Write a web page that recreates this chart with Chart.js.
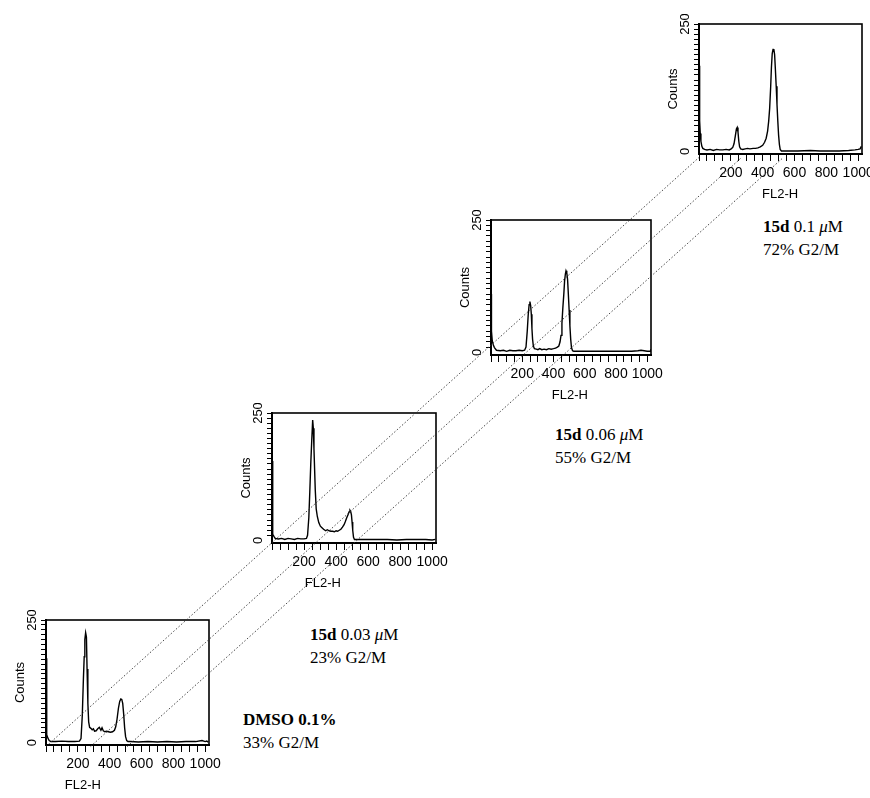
<!DOCTYPE html>
<html>
<head>
<meta charset="utf-8">
<script src="https://cdn.jsdelivr.net/npm/chart.js@4.4.1/dist/chart.umd.min.js"></script>
<style>
  html, body { margin: 0; padding: 0; background: #fff; width: 870px; height: 798px; overflow: hidden; }
  canvas.panel { position: absolute; }
  #overlay { position: absolute; left: 0; top: 0; z-index: 10; pointer-events: none; }
  .lbl { position: absolute; font: 17px "Liberation Serif", "Times New Roman", serif; line-height: 23px; color: #000; white-space: nowrap; }
  .lbl b { font-weight: bold; }
</style>
</head>
<body>
<canvas class="panel" id="p1"></canvas>
<canvas class="panel" id="p2"></canvas>
<canvas class="panel" id="p3"></canvas>
<canvas class="panel" id="p4"></canvas>
<canvas id="overlay" width="870" height="798"></canvas>

<div class="lbl" style="left:243px;top:708px"><b>DMSO 0.1%</b><br>33% G2/M</div>
<div class="lbl" style="left:310px;top:623px"><b>15d</b> 0.03 <i>μ</i>M<br>23% G2/M</div>
<div class="lbl" style="left:555px;top:423px"><b>15d</b> 0.06 <i>μ</i>M<br>55% G2/M</div>
<div class="lbl" style="left:763px;top:215px"><b>15d</b> 0.1 <i>μ</i>M<br>72% G2/M</div>

<script>
// ---------- DATA: [FL2-H channel, counts] ----------
const dmso = [[0,172],[3,40],[6,16],[12,9],[20,4],[30,2],[60,2],[100,3],[140,2],[180,2],[210,3],[220,8],[228,55],[235,130],[240,175],[244,210],[249,224],[254,215],[258,150],[263,80],[268,42],[274,31],[282,29],[290,26],[298,28],[305,23],[315,24],[325,28],[335,31],[345,25],[352,30],[360,24],[370,22],[380,23],[392,22],[405,21],[418,22],[430,25],[438,32],[446,47],[455,70],[463,84],[470,89],[476,88],[482,80],[488,58],[494,30],[500,12],[507,4],[515,2],[530,2],[580,1],[640,2],[700,1],[760,2],[820,1],[880,2],[940,2],[980,4],[1000,2],[1010,3],[1020,1]];

const d003 = [[0,156],[3,60],[6,12],[12,8],[20,4],[40,3],[60,4],[80,2],[100,4],[120,3],[140,2],[160,4],[180,3],[200,3],[215,4],[222,10],[230,45],[236,95],[242,150],[248,195],[254,236],[258,220],[262,180],[266,140],[270,100],[276,62],[283,47],[292,35],[302,28],[312,25],[322,22],[335,19],[345,21],[357,19],[368,18],[378,18],[390,17],[400,19],[410,18],[420,20],[430,22],[440,26],[450,31],[458,37],[466,44],[474,50],[481,56],[487,59],[491,57],[496,50],[500,36],[504,20],[509,6],[515,2],[540,2],[600,2],[660,2],[720,2],[780,1],[840,2],[900,2],[960,2],[1000,1],[1020,2]];

const d006 = [[0,110],[3,40],[8,22],[15,14],[22,9],[35,4],[60,3],[80,4],[100,2],[120,4],[140,3],[160,3],[180,4],[200,3],[215,4],[224,10],[232,40],[238,70],[244,90],[249,96],[254,88],[258,72],[262,45],[266,25],[271,12],[278,7],[290,6],[300,5],[312,7],[325,5],[340,6],[355,5],[370,7],[385,6],[400,7],[413,8],[425,10],[434,12],[442,20],[448,32],[454,55],[460,85],[466,110],[471,135],[476,148],[480,154],[485,150],[490,138],[495,110],[500,80],[505,50],[510,25],[515,9],[522,3],[530,2],[600,2],[680,2],[760,2],[840,2],[900,2],[940,3],[960,4],[980,3],[1000,2],[1018,2],[1022,6]];

const d01 = [[0,168],[4,60],[8,35],[12,20],[18,10],[24,6],[35,4],[50,3],[70,4],[90,2],[110,4],[130,3],[150,3],[170,4],[190,3],[202,5],[212,8],[220,15],[228,30],[235,44],[240,47],[245,38],[250,20],[255,9],[262,5],[275,4],[290,5],[305,6],[320,5],[340,6],[355,6],[370,7],[385,9],[400,12],[412,18],[422,26],[431,40],[438,60],[444,85],[450,125],[455,165],[460,192],[465,200],[470,201],[475,190],[480,160],[485,128],[490,92],[495,60],[500,32],[505,14],[510,4],[518,1],[560,1],[620,1],[700,2],[760,1],[820,1],[880,1],[940,2],[980,3],[1000,4],[1012,5],[1020,10]];

// tick labels / tick marks
const xTickLabels = [200, 400, 600, 800, 1000];
const xTickMarks = [0, 50, 100, 150, 200, 250, 300, 350, 400, 450, 500, 550, 600, 650, 700, 750, 800, 850, 900, 950, 1000];
const yTickLabels = [0, 250];
// FL2-H values joined by the dotted guide lines (start in DMSO panel, end in 0.1 µM panel)
const guideStart = [0, 280, 510];
const guideEnd = [0, 268, 530];

// ---------- LAYOUT (box = plot area in page pixels) ----------
const panels = [
  { id: 'p1', data: dmso, box: { l: 46, t: 620, r: 209, b: 745 }, titleAt: 232 },
  { id: 'p2', data: d003, box: { l: 272, t: 413, r: 436, b: 543 }, titleAt: 318 },
  { id: 'p3', data: d006, box: { l: 491, t: 220, r: 651, b: 355 }, titleAt: 505 },
  { id: 'p4', data: d01,  box: { l: 699, t: 24,  r: 862, b: 154 }, titleAt: 510 }
];

const AXW = 45, AXH = 50, PT = 10, PR = 20;
const narrow = '"Liberation Sans Narrow", "Liberation Sans", Arial, sans-serif';
const sans = '"Liberation Sans", Arial, sans-serif';

const panelDecor = {
  id: 'panelDecor',
  afterDraw(chart, args, opts) {
    const { ctx, chartArea: a, scales: { x, y } } = chart;
    ctx.save();
    ctx.strokeStyle = '#000';
    ctx.lineWidth = 1.6;
    ctx.strokeRect(a.left, a.top, a.right - a.left, a.bottom - a.top);
    ctx.fillStyle = '#000';
    ctx.font = '13px ' + sans;
    ctx.textAlign = 'center';
    ctx.textBaseline = 'middle';
    for (const v of yTickLabels) {
      ctx.save();
      ctx.translate(a.left - 14, y.getPixelForValue(v));
      ctx.rotate(-Math.PI / 2);
      ctx.fillText(String(v), 0, 0);
      ctx.restore();
    }
    ctx.font = '13px ' + narrow;
    ctx.fillText('FL2-H', x.getPixelForValue(opts.titleAt), a.bottom + 40);
    ctx.restore();
  }
};

const charts = [];
for (const p of panels) {
  const cv = document.getElementById(p.id);
  const w = (p.box.r - p.box.l) + AXW + PR;
  const h = (p.box.b - p.box.t) + PT + AXH;
  cv.width = w; cv.height = h;
  cv.style.left = (p.box.l - AXW) + 'px';
  cv.style.top = (p.box.t - PT) + 'px';
  cv.style.width = w + 'px'; cv.style.height = h + 'px';
  p.cx = p.box.l - AXW; p.cy = p.box.t - PT;
  const ch = new Chart(cv, {
    type: 'line',
    data: {
      datasets: [{
        data: p.data.map(d => ({ x: d[0], y: d[1] })),
        borderColor: '#000',
        borderWidth: 1.4,
        pointRadius: 0,
        tension: 0,
        fill: false
      }]
    },
    options: {
      responsive: false,
      animation: false,
      devicePixelRatio: 1,
      layout: { padding: { top: PT, right: PR, left: 0, bottom: 0 } },
      plugins: { legend: { display: false }, tooltip: { enabled: false }, panelDecor: { titleAt: p.titleAt } },
      scales: {
        x: {
          type: 'linear', min: 0, max: 1024,
          afterFit: s => { s.height = AXH; },
          afterBuildTicks: s => { s.ticks = xTickMarks.map(v => ({ value: v })); },
          ticks: {
            autoSkip: false, maxRotation: 0, minRotation: 0, padding: 4,
            color: '#000', font: { family: narrow, size: 14 },
            callback: v => xTickLabels.includes(v) ? String(v) : ''
          },
          grid: { drawOnChartArea: false, drawTicks: true, tickLength: 7, tickColor: '#000', tickWidth: 1 },
          border: { display: true, color: '#000', width: 2 }
        },
        y: {
          type: 'linear', min: -5, max: 250,
          afterFit: s => { s.width = AXW; },
          afterBuildTicks: s => { s.ticks = s.ticks.filter(t => t.value >= 0 && t.value % 10 === 0); },
          ticks: { stepSize: 10, display: false, autoSkip: false },
          grid: { drawOnChartArea: false, drawTicks: true, tickLength: 5, tickColor: '#000', tickWidth: 1 },
          border: { display: true, color: '#000', width: 2 },
          title: { display: true, text: 'Counts', color: '#000', font: { family: sans, size: 13 }, padding: { top: 12, bottom: 0 } }
        }
      }
    },
    plugins: [panelDecor]
  });
  charts.push(ch);
}

// ---------- dotted guide lines, positioned through the panels' own scales ----------
function pagePoint(i, v, dy) {
  const p = panels[i], ch = charts[i];
  return { x: p.cx + ch.scales.x.getPixelForValue(v), y: p.cy + ch.scales.y.getPixelForValue(0) + dy };
}
const guideSets = guideStart.map((v, k) => ({
  data: [pagePoint(0, v, 4), pagePoint(3, guideEnd[k], 6)],
  showLine: true,
  borderColor: '#333',
  borderWidth: 0.9,
  borderDash: [1.5, 2],
  pointRadius: 0,
  fill: false
}));
new Chart(document.getElementById('overlay'), {
  type: 'scatter',
  data: { datasets: guideSets },
  options: {
    responsive: false, animation: false, devicePixelRatio: 1,
    layout: { padding: 0 },
    plugins: { legend: { display: false }, tooltip: { enabled: false } },
    scales: {
      x: { type: 'linear', min: 0, max: 870, display: false },
      y: { type: 'linear', min: 0, max: 798, reverse: true, display: false }
    }
  }
});
</script>
</body>
</html>
